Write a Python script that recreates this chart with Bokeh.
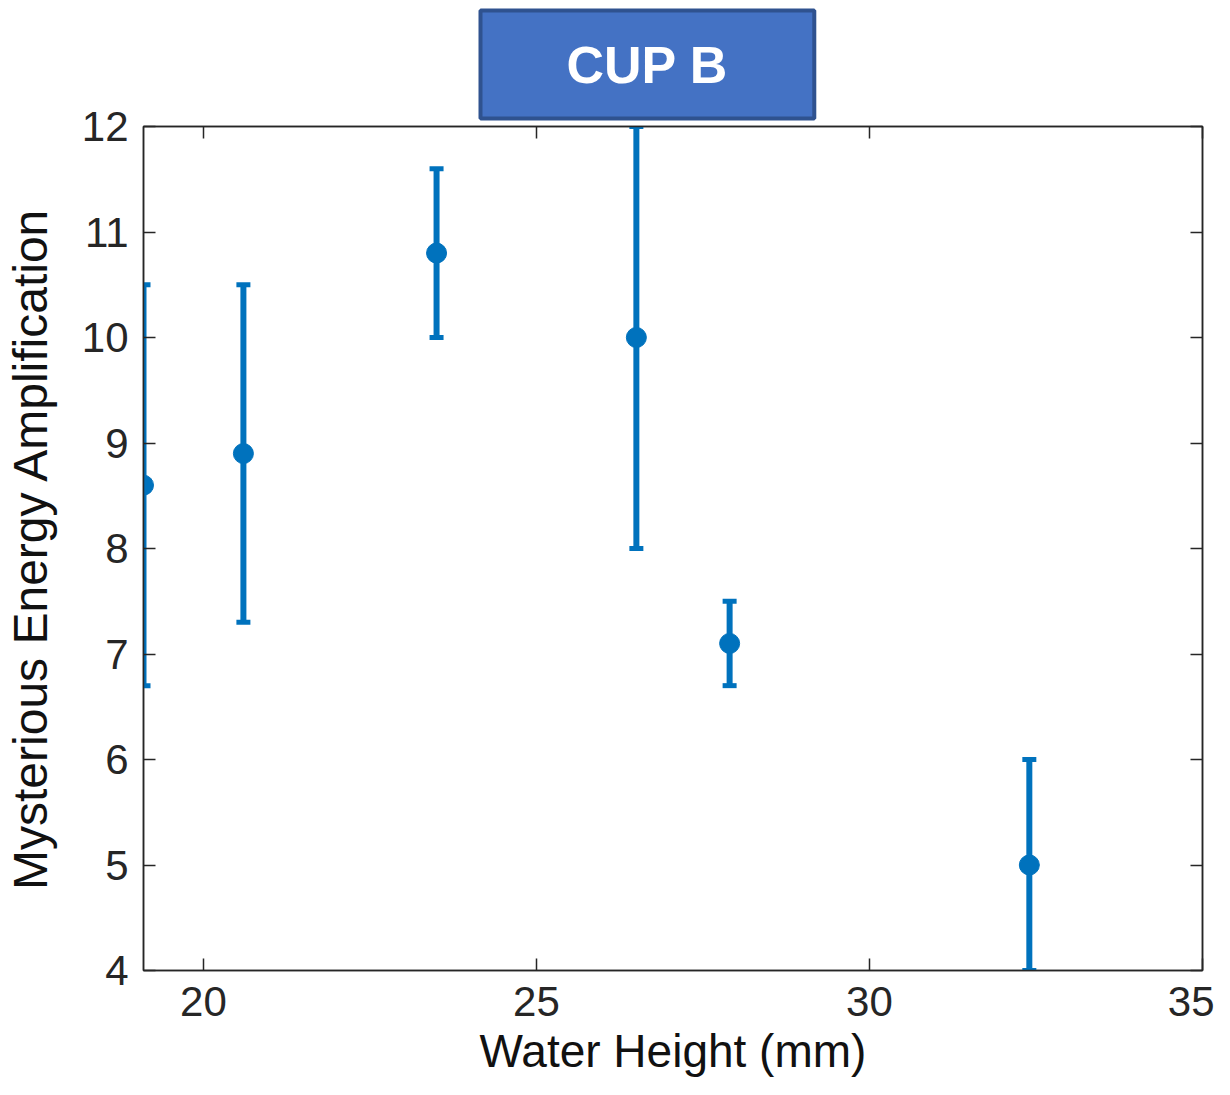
from bokeh.plotting import figure
from bokeh.models import (ColumnDataSource, Whisker, TeeHead, LinearAxis, FixedTicker,
                          Range1d, Title)
from bokeh.embed import file_html
from bokeh.resources import INLINE

# ---- data ----
water_height = [19.1, 20.6, 23.5, 26.5, 27.9, 32.4]
amplification = [8.6, 8.9, 10.8, 10.0, 7.1, 5.0]
err_lower = [6.7, 7.3, 10.0, 8.0, 6.7, 4.0]
err_upper = [10.5, 10.5, 11.6, 12.0, 7.5, 6.0]
x_ticks = [20, 25, 30, 35]
y_ticks = [4, 5, 6, 7, 8, 9, 10, 11, 12]
title_text = "CUP B"
x_label = "Water Height (mm)"
y_label = "Mysterious Energy Amplification"

BLUE = "#0072BD"
AX = "#262626"
FONT = "Liberation Sans"

src = ColumnDataSource(dict(x=water_height, y=amplification, lower=err_lower, upper=err_upper))

title = Title(text=title_text, align="left", offset=337, standoff=16,
              text_font=FONT, text_font_size="52px", text_font_style="bold",
              text_color="white",
              background_fill_color="#4472C4", background_fill_alpha=1.0,
              border_line_color="#2F528F", border_line_width=4,
              padding=dict(left=86, right=86, top=25, bottom=25))

p = figure(width=1214, height=1079, output_backend="svg", toolbar_location=None,
           x_range=Range1d(19.1, 35), y_range=Range1d(4, 12),
           min_border_left=142, min_border_right=12, min_border_top=126, min_border_bottom=109,
           x_axis_label=x_label, y_axis_label=y_label, title=title)
p.grid.visible = False
p.outline_line_color = AX
p.outline_line_width = 1.5


def style_axis(ax, ticks, show_labels=True):
    ax.ticker = FixedTicker(ticks=ticks)
    ax.axis_line_color = AX
    ax.axis_line_width = 1.5
    ax.major_tick_line_color = AX
    ax.major_tick_line_width = 1.5
    ax.major_tick_in = 12
    ax.major_tick_out = 0
    ax.minor_tick_line_color = None
    ax.major_label_text_font = FONT
    ax.major_label_text_font_size = "42px"
    ax.major_label_text_color = AX
    ax.axis_label_text_font = FONT
    ax.axis_label_text_font_size = "46px"
    ax.axis_label_text_font_style = "normal"
    ax.axis_label_text_color = "#111111"
    if not show_labels:
        ax.major_label_text_font_size = "0px"
        ax.major_label_text_color = None
        ax.major_label_standoff = 0


style_axis(p.xaxis[0], x_ticks)
style_axis(p.yaxis[0], y_ticks)
p.yaxis[0].axis_label_text_font_size = "48px"
p.xaxis[0].major_label_standoff = 16
p.xaxis[0].axis_label_standoff = 6
p.yaxis[0].major_label_standoff = 15
p.yaxis[0].axis_label_standoff = 22

top_ax = LinearAxis()
style_axis(top_ax, x_ticks, show_labels=False)
p.add_layout(top_ax, "above")
right_ax = LinearAxis()
style_axis(right_ax, y_ticks, show_labels=False)
p.add_layout(right_ax, "right")

p.add_layout(Whisker(source=src, base="x", lower="lower", upper="upper",
                     line_color=BLUE, line_width=6,
                     upper_head=TeeHead(size=14, line_color=BLUE, line_width=5),
                     lower_head=TeeHead(size=14, line_color=BLUE, line_width=5)))
p.scatter("x", "y", source=src, size=20, fill_color=BLUE, line_color=BLUE)

open("out.html", "w").write(file_html(p, INLINE))
